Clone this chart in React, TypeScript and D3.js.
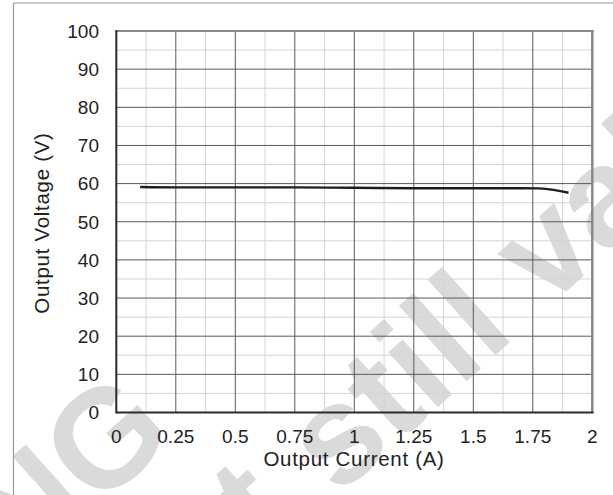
import React from "react";
import * as d3 from "d3";

const currentA = [0.1, 0.25, 0.5, 0.75, 1.0, 1.25, 1.5, 1.7, 1.77, 1.82, 1.86, 1.9];
const voltageV = [59.1, 59.0, 59.0, 59.0, 58.9, 58.8, 58.8, 58.8, 58.75, 58.5, 58.1, 57.6];
const xTicks = [0, 0.25, 0.5, 0.75, 1, 1.25, 1.5, 1.75, 2];
const xTickLabels = ["0", "0.25", "0.5", "0.75", "1", "1.25", "1.5", "1.75", "2"];
const yTicks = [0, 10, 20, 30, 40, 50, 60, 70, 80, 90, 100];
const xMinor = [0.125, 0.375, 0.625, 0.875, 1.125, 1.375, 1.625, 1.875];
const yMinor = [5, 15, 25, 35, 45, 55, 65, 75, 85, 95];

const W = 613;
const H = 495;
const FONT = "'Liberation Sans', Arial, sans-serif";

export default function App() {
  const x = d3.scaleLinear().domain([0, 2]).range([116.3, 592.3]);
  const y = d3.scaleLinear().domain([0, 100]).range([412.5, 31]);
  const line = d3
    .line<number>()
    .x((_, i) => x(currentA[i]))
    .y((d) => y(d))
    .curve(d3.curveMonotoneX);

  const rot = -42;
  const wm = "#dadada";
  return (
    <svg
      width={W}
      height={H}
      style={{ position: "absolute", left: 0, top: 0, background: "#fff" }}
    >
      <rect x={0} y={0} width={W} height={H} fill="#fff" />
      {/* watermark */}
      <g fill={wm} fontFamily={FONT} fontWeight="bold" fontSize={140}>
        <text x={178} y={437} textAnchor="end" transform={`rotate(${rot},178,437)`}>
          PRODUCT PHASING
        </text>
        <text x={299} y={523} textAnchor="end" transform={`rotate(${rot},299,523)`}>
          Datasheet
        </text>
        <text x={338} y={497} textAnchor="start" transform={`rotate(${rot},338,497)`}>
          still valid
        </text>
      </g>
      {/* frame */}
      <line x1={13.5} y1={3} x2={W} y2={3} stroke="#999" strokeWidth={1.2} />
      <line x1={13.5} y1={3} x2={13.5} y2={H} stroke="#999" strokeWidth={1.2} />
      {/* minor grid */}
      {xMinor.map((v) => (
        <line key={"xm" + v} x1={x(v)} x2={x(v)} y1={y(0)} y2={y(100)} stroke="#d4d4d4" strokeWidth={1} />
      ))}
      {yMinor.map((v) => (
        <line key={"ym" + v} x1={x(0)} x2={x(2)} y1={y(v)} y2={y(v)} stroke="#d4d4d4" strokeWidth={1} />
      ))}
      {/* major grid */}
      {xTicks.slice(1, -1).map((v) => (
        <line key={"xM" + v} x1={x(v)} x2={x(v)} y1={y(0)} y2={y(100)} stroke="#5a5a5a" strokeWidth={1} />
      ))}
      {yTicks.slice(1, -1).map((v) => (
        <line key={"yM" + v} x1={x(0)} x2={x(2)} y1={y(v)} y2={y(v)} stroke="#5a5a5a" strokeWidth={1} />
      ))}
      {/* borders */}
      <line x1={x(0)} x2={x(2) + 1.5} y1={y(100)} y2={y(100)} stroke="#888" strokeWidth={2} />
      <line x1={x(2)} x2={x(2)} y1={y(100)} y2={y(0)} stroke="#888" strokeWidth={2.5} />
      <line x1={x(0)} x2={x(2) + 1.2} y1={y(0)} y2={y(0)} stroke="#2a2a2a" strokeWidth={2} />
      <line x1={x(0)} x2={x(0)} y1={y(100) - 1} y2={y(0) + 1} stroke="#2a2a2a" strokeWidth={2} />
      {/* data */}
      <path d={line(voltageV) || ""} fill="none" stroke="#1e1e1e" strokeWidth={2.4} />
      {/* tick labels */}
      <g fontFamily={FONT} fontSize={19} fill="#222">
        {xTicks.map((v, i) => (
          <text key={"xl" + v} x={x(v)} y={443} textAnchor="middle">
            {xTickLabels[i]}
          </text>
        ))}
        {yTicks.map((v) => (
          <text key={"yl" + v} x={99} y={y(v)} dy="0.36em" textAnchor="end">
            {v}
          </text>
        ))}
      </g>
      <text
        x={354}
        y={466}
        textAnchor="middle"
        fontFamily={FONT}
        fontSize={20.5}
        letterSpacing={0.7}
        fill="#222"
      >
        Output Current (A)
      </text>
      <text
        transform="translate(48.5,223) rotate(-90)"
        textAnchor="middle"
        fontFamily={FONT}
        fontSize={20.5}
        letterSpacing={0.7}
        fill="#222"
      >
        Output Voltage (V)
      </text>
    </svg>
  );
}
